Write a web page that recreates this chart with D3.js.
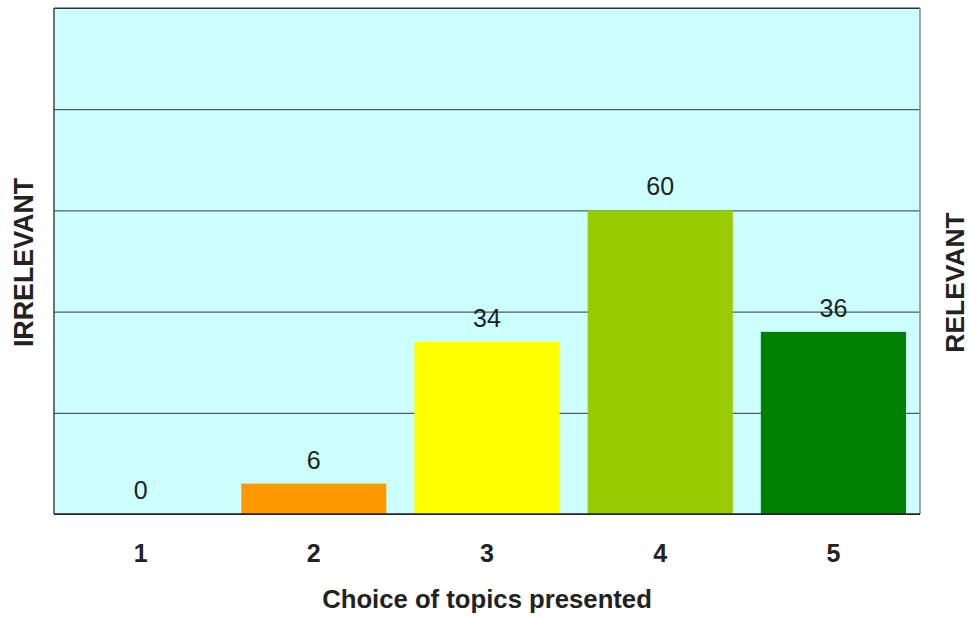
<!DOCTYPE html>
<html>
<head>
<meta charset="utf-8">
<script src="https://cdn.jsdelivr.net/npm/d3@7"></script>
<style>
  body { margin: 0; background: #fff; }
  text { font-family: "Liberation Sans", Arial, sans-serif; fill: #222; }
</style>
</head>
<body>
<div id="chart-area"></div>
<script>
// data
let categories = ["1", "2", "3", "4", "5"];
let counts = [0, 6, 34, 60, 36];
let barColors = ["#ff9900", "#ff9900", "#ffff00", "#99cc00", "#008000"];
let yTicks = [0, 20, 40, 60, 80, 100];

let margin = {top: 8, right: 49, bottom: 105, left: 54},
    width = 969 - margin.left - margin.right,
    height = 619 - margin.top - margin.bottom;

let data = categories.map((c, i) => ({cat: c, value: counts[i], color: barColors[i]}));

let x = d3.scaleBand()
    .domain(categories)
    .range([0, width])
    .paddingInner(0.162)
    .paddingOuter(0.081);

let y = d3.scaleLinear()
    .domain([0, 100])
    .range([height, 0]);

let svg = d3.select("#chart-area")
    .append("svg")
        .attr("width", 969)
        .attr("height", 619)
    .append("g")
        .attr("transform", "translate(" + margin.left + ", " + margin.top + ")");

// plot background
svg.append("rect")
    .attr("width", width)
    .attr("height", height)
    .attr("fill", "#ccffff");

// gridlines
svg.append("g")
    .attr("class", "grid")
    .call(d3.axisLeft(y).tickValues(yTicks).tickSize(-width).tickFormat(""))
    .call(g => g.select(".domain").remove())
    .call(g => g.selectAll("line").attr("stroke", "#333").attr("stroke-width", 1));

// bars
svg.selectAll(".bar")
    .data(data)
    .enter()
    .append("rect")
        .attr("class", "bar")
        .attr("x", d => x(d.cat))
        .attr("width", x.bandwidth())
        .attr("y", d => y(d.value))
        .attr("height", d => height - y(d.value))
        .attr("fill", d => d.color);

// value labels
svg.selectAll(".value-label")
    .data(data)
    .enter()
    .append("text")
        .attr("class", "value-label")
        .attr("x", d => x(d.cat) + x.bandwidth() / 2)
        .attr("y", d => y(d.value) - 15)
        .attr("text-anchor", "middle")
        .attr("font-size", "25px")
        .text(d => d.value);

// frame
svg.append("line").attr("x1", 0).attr("x2", width).attr("y1", 0).attr("y2", 0).attr("stroke", "#333");
svg.append("line").attr("x1", 0).attr("x2", 0).attr("y1", 0).attr("y2", height).attr("stroke", "#444").attr("stroke-width", 1.5);
svg.append("line").attr("x1", width).attr("x2", width).attr("y1", 0).attr("y2", height).attr("stroke", "#888").attr("stroke-width", 1.5);
svg.append("line").attr("x1", 0).attr("x2", width).attr("y1", height).attr("y2", height).attr("stroke", "#222").attr("stroke-width", 1.5);

// x axis labels
let xAxisGroup = svg.append("g")
    .attr("class", "x-axis")
    .attr("transform", "translate(0, " + height + ")")
    .call(d3.axisBottom(x).tickSize(0).tickPadding(0));
xAxisGroup.select(".domain").remove();
xAxisGroup.selectAll("text")
    .attr("y", 48)
    .attr("dy", 0)
    .attr("font-size", "25px")
    .attr("font-weight", "bold")
    .style("font-family", "'Liberation Sans', Arial, sans-serif")
    .attr("fill", "#222");

// axis titles
svg.append("text")
    .attr("x", width / 2)
    .attr("y", height + 94)
    .attr("text-anchor", "middle")
    .attr("font-size", "25.7px")
    .attr("font-weight", "bold")
    .text("Choice of topics presented");

svg.append("text")
    .attr("transform", "rotate(-90)")
    .attr("x", -(262.5 - margin.top))
    .attr("y", -21)
    .attr("text-anchor", "middle")
    .attr("font-size", "26.8px")
    .attr("font-weight", "bold")
    .text("IRRELEVANT");

svg.append("text")
    .attr("transform", "rotate(-90)")
    .attr("x", -(282.5 - margin.top))
    .attr("y", width + 44)
    .attr("text-anchor", "middle")
    .attr("font-size", "26.4px")
    .attr("font-weight", "bold")
    .text("RELEVANT");
</script>
</body>
</html>
